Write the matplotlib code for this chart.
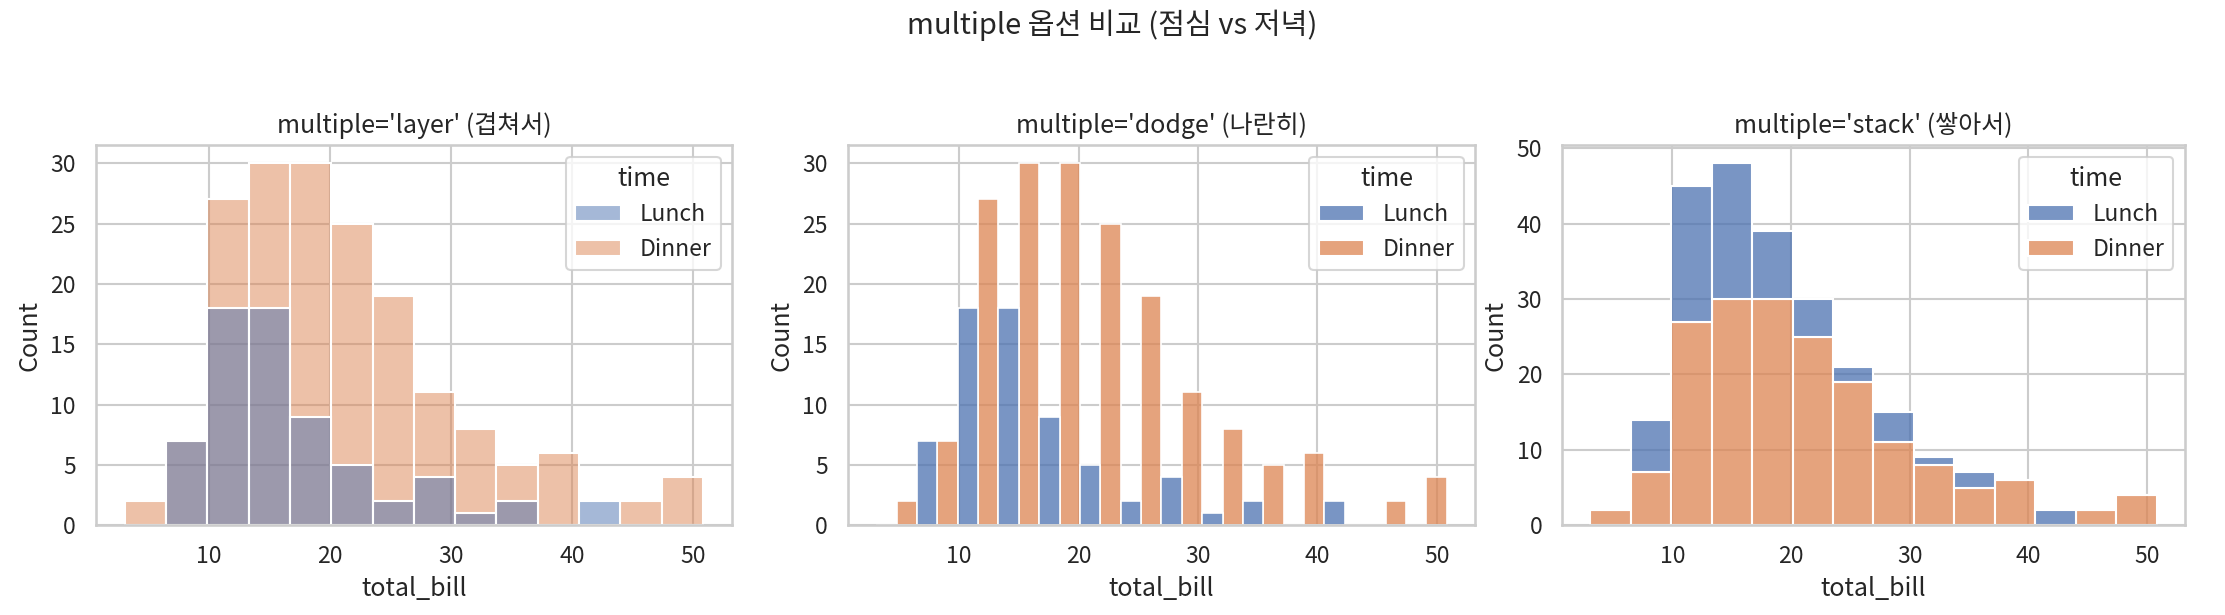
import numpy as np
import pandas as pd
import matplotlib
matplotlib.use('Agg')
import matplotlib.pyplot as plt
import seaborn as sns

# counts per bin (tips data, total_bill by time)
bill_min = 3.07
bill_max = 50.81
n_bins = 14
lunch_counts = [0, 7, 18, 18, 9, 5, 2, 4, 1, 2, 0, 2, 0, 0]
dinner_counts = [2, 7, 27, 30, 30, 25, 19, 11, 8, 5, 6, 0, 2, 4]
time_levels = ['Lunch', 'Dinner']
modes = ['layer', 'dodge', 'stack']
titles = ["multiple='layer' (겹쳐서)", "multiple='dodge' (나란히)", "multiple='stack' (쌓아서)"]

sns.set_theme(style='whitegrid')
plt.rcParams['font.family'] = ['Noto Sans CJK KR', 'DejaVu Sans']
plt.rcParams['axes.unicode_minus'] = False

edges = np.linspace(bill_min, bill_max, n_bins + 1)
centers = (edges[:-1] + edges[1:]) / 2

rows = []
for c, l, d in zip(centers, lunch_counts, dinner_counts):
    rows.append({'total_bill': c, 'time': 'Lunch', 'n': l})
    rows.append({'total_bill': c, 'time': 'Dinner', 'n': d})
df = pd.DataFrame(rows)

fig, axes = plt.subplots(1, 3, figsize=(2225 / 150, 615 / 150), dpi=150)

for ax, mode, title in zip(axes, modes, titles):
    sns.histplot(data=df, x='total_bill', hue='time', weights='n',
                 bins=n_bins, binrange=(bill_min, bill_max),
                 multiple=mode, hue_order=time_levels, ax=ax)
    ax.set_title(title)
    ax.set_xlabel('total_bill')
    ax.set_ylabel('Count')

fig.suptitle('multiple 옵션 비교 (점심 vs 저녁)', fontsize=14, y=0.985)

positions = [(0.043, 0.329), (0.381, 0.663), (0.702, 0.982)]
for ax, (l, r) in zip(axes, positions):
    ax.set_position([l, 0.146, r - l, 0.764 - 0.146])

fig.savefig('out.png', dpi=150)
